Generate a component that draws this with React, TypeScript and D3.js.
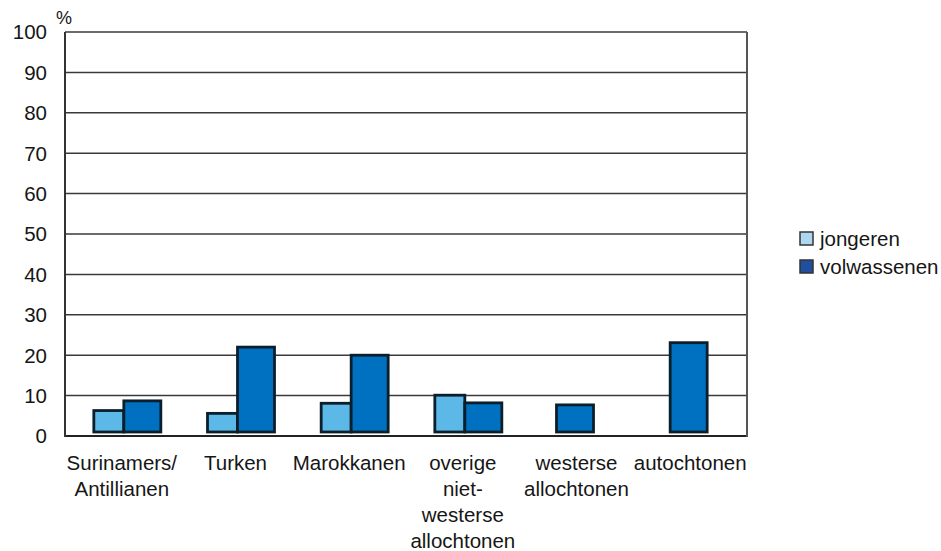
import React from "react";
import * as d3 from "d3";

const categories: string[][] = [
  ["Surinamers/", "Antillianen"],
  ["Turken"],
  ["Marokkanen"],
  ["overige", "niet-", "westerse", "allochtonen"],
  ["westerse", "allochtonen"],
  ["autochtonen"],
];
const jongeren: (number | null)[] = [6.3, 5.6, 8.1, 10.1, null, null];
const volwassenen: (number | null)[] = [8.7, 22.0, 20.0, 8.2, 7.7, 23.1];
const yTicks: number[] = [0, 10, 20, 30, 40, 50, 60, 70, 80, 90, 100];
const seriesNames: string[] = ["jongeren", "volwassenen"];

const W = 941;
const H = 551;
const left = 65;
const right = 747;
const top = 32;
const bottom = 436;
const FONT = "'Liberation Sans', Arial, Helvetica, sans-serif";
const FS = 20.5;
const barColors = ["#5cb8e6", "#0070c0"];
const legendColors = ["#aed6f1", "#1f4f9e"];
const textColor = "#161616";

export default function App() {
  const x = d3
    .scaleBand<number>()
    .domain(categories.map((_, i) => i))
    .range([left, right])
    .padding(0);
  const y = d3.scaleLinear().domain([0, 100]).range([bottom, top]);
  const baseY = y(0) - 4;

  const bars: React.ReactNode[] = [];
  categories.forEach((_, i) => {
    const c = (x(i) as number) + x.bandwidth() / 2;
    const j = jongeren[i];
    const v = volwassenen[i];
    if (j != null && v != null) {
      bars.push(
        <rect key={`j${i}`} x={c - 28} y={y(j)} width={30} height={baseY - y(j)}
          fill={barColors[0]} stroke="#0b1e2c" strokeWidth={2.8} />
      );
      bars.push(
        <rect key={`v${i}`} x={c + 2} y={y(v)} width={37} height={baseY - y(v)}
          fill={barColors[1]} stroke="#0b1e2c" strokeWidth={2.8} />
      );
    } else if (v != null) {
      bars.push(
        <rect key={`v${i}`} x={c - 20} y={y(v)} width={37} height={baseY - y(v)}
          fill={barColors[1]} stroke="#0b1e2c" strokeWidth={2.8} />
      );
    }
  });

  return (
    <svg width={W} height={H} style={{ position: "absolute", left: 0, top: 0, background: "#fff" }}
      fontFamily={FONT}>
      {yTicks.map((t) => (
        <line key={`g${t}`} x1={left} x2={right} y1={y(t)} y2={y(t)}
          stroke={t === 0 ? "#222" : "#3a3a3a"} strokeWidth={t === 0 ? 2 : 1.5} />
      ))}
      <line x1={left} x2={left} y1={top} y2={bottom + 1} stroke="#333" strokeWidth={2} />
      <line x1={right} x2={right} y1={top} y2={bottom + 1} stroke="#555" strokeWidth={2} />
      {yTicks.map((t) => (
        <text key={`yl${t}`} x={47} y={y(t)} dy="0.36em" textAnchor="end" fontSize={FS} fill={textColor}>
          {t}
        </text>
      ))}
      <text x={56} y={24} fontSize={18} fill={textColor}>%</text>
      {bars}
      {categories.map((lines, i) => {
        const c = (x(i) as number) + x.bandwidth() / 2;
        return (
          <text key={`xl${i}`} x={c} y={470} textAnchor="middle" fontSize={FS} fill={textColor}>
            {lines.map((l, k) => (
              <tspan key={k} x={c} dy={k === 0 ? 0 : 26}>{l}</tspan>
            ))}
          </text>
        );
      })}
      {seriesNames.map((s, k) => (
        <g key={s} transform={`translate(800, ${232 + k * 28})`}>
          <rect x={0} y={0} width={13} height={13} fill={legendColors[k]} stroke="#333" strokeWidth={1.5} />
          <text x={20} y={14} fontSize={FS} fill={textColor}>{s}</text>
        </g>
      ))}
    </svg>
  );
}
